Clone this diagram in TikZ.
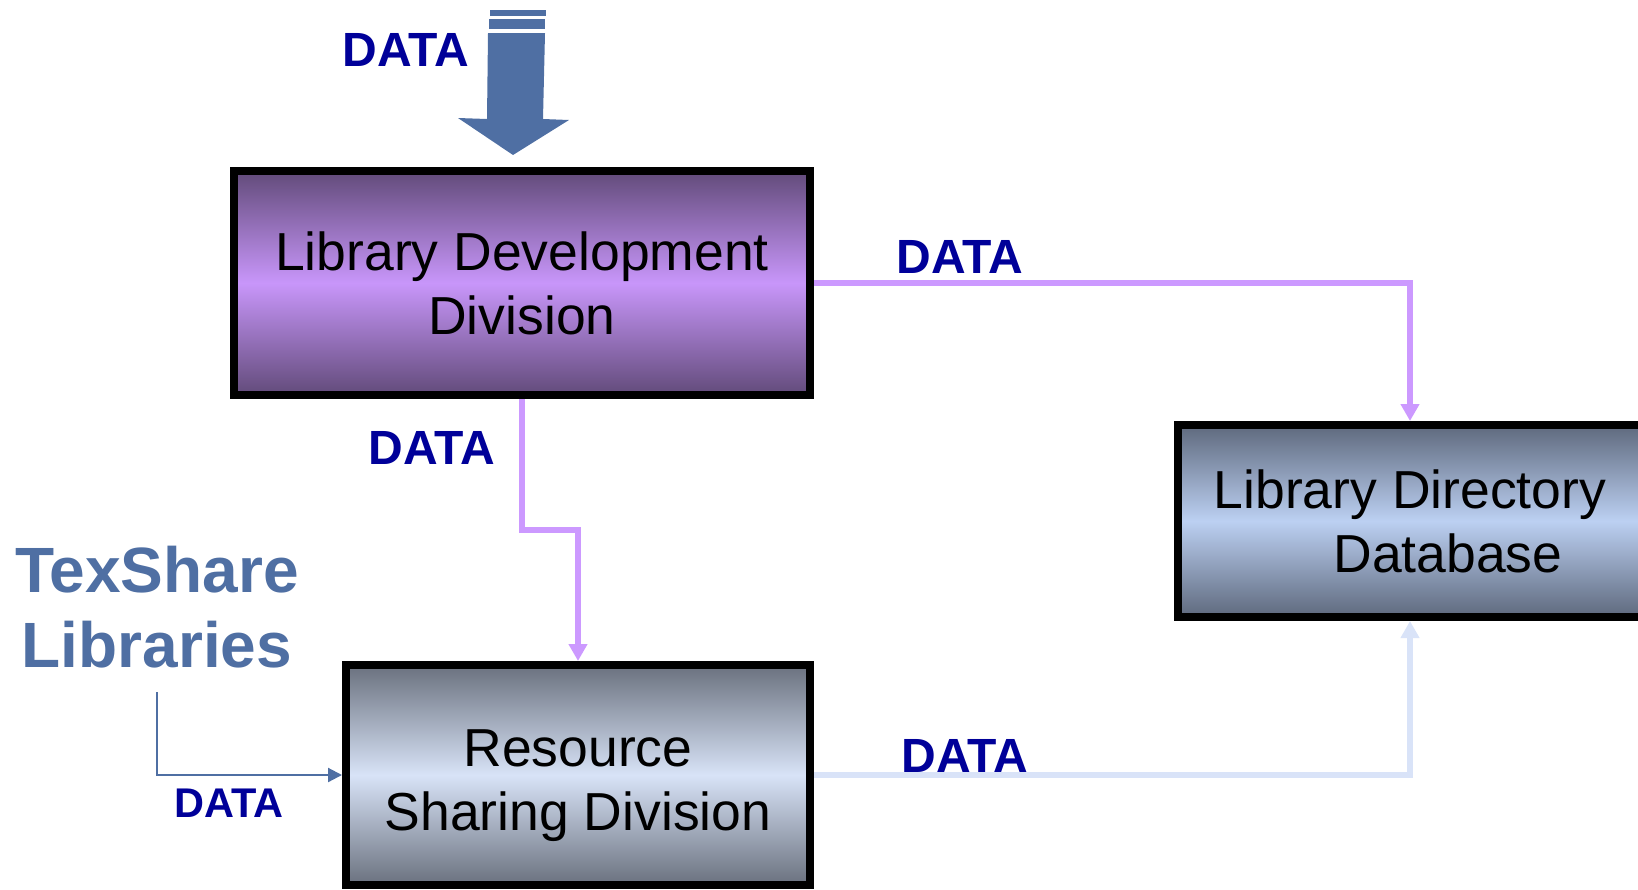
\documentclass[tikz,border=0pt]{standalone}
\usepackage{fontspec}
\setmainfont{Liberation Sans}
\usetikzlibrary{arrows.meta}
\usetikzlibrary{calc,positioning}
\definecolor{datablue}{RGB}{0,0,153}
\definecolor{steelblue}{RGB}{79,111,163}
\definecolor{lilac}{RGB}{204,153,255}
\definecolor{paleblue}{RGB}{217,227,248}
\definecolor{devdark}{RGB}{98,75,122}
\definecolor{devlight}{RGB}{200,150,250}
\definecolor{shrdark}{RGB}{106,113,126}
\definecolor{shrlight}{RGB}{216,227,247}
\definecolor{dirdark}{RGB}{94,105,125}
\definecolor{dirlight}{RGB}{188,208,242}
\def\totalwidth{1638}
\def\totalheight{889}
\tikzstyle{division}             = [draw=black,line width=8pt,inner sep=0pt,
                                    align=center,font=\fontsize{53.5}{64}\selectfont]
\tikzstyle{datalabel}            = [text=datablue,inner sep=0pt,
                                    font=\fontsize{48}{56}\selectfont\bfseries]
\tikzset{shaded/.style 2 args={top color=#1,bottom color=#1,middle color=#2},
         flow/.style={line width=6pt,-{Triangle[width=18pt,length=17pt]}},
         feed/.style={line width=2.2pt,steelblue,-{Triangle[width=14pt,length=14pt]}}
}

\begin{document}
\begin{tikzpicture}[x=1pt,y=-1pt]
        \useasboundingbox (0,0) rectangle (\totalwidth,\totalheight);
        \clip (0,0) rectangle (\totalwidth,\totalheight);

        % Boxes
        \node[division,shaded={devdark}{devlight},minimum width=576pt,minimum height=224pt]
              (dev) at (522,283) {Library Development\\Division};
        \node[division,shaded={shrdark}{shrlight},minimum width=464pt,minimum height=220pt]
              (share) at (578,775) {\rule{0pt}{58pt}Resource\\Sharing Division};
        \node[division,shaded={dirdark}{dirlight},minimum width=464pt,minimum height=192pt]
              (dir) at (1410,521) {Library Directory\\\hspace*{76pt}Database};
        \node[text=steelblue,align=center,inner xsep=0pt,inner ysep=24pt,
              font=\fontsize{64}{75}\selectfont\bfseries] (tex) at (157,607) {TexShare\\Libraries};

        % Incoming block arrow
        \fill[steelblue] (490,10) rectangle (546,16);
        \fill[steelblue] (489,19) rectangle (545,29);
        \fill[steelblue] (488,33) -- (545,33) -- (543,119) -- (569,120) -- (513,155)
                         -- (458,118) -- (487,119) -- cycle;
        \node[datalabel] (dtop) at (406,50) {DATA};

        % Flows
        \draw[flow,lilac] (dev.east) -| (dir.north);
        \node[datalabel] (dright) at (960,257) {DATA};

        \draw[flow,lilac] (dev.south) -- ++(0,131) -| (share.north);
        \node[datalabel] (ddown) at (432,448) {DATA};

        \draw[flow,paleblue] (share.east) -| (dir.south);
        \node[datalabel] (dback) at (965,756) {DATA};

        \draw[feed] (tex.south) |- (share.west);
        \node[datalabel,font=\fontsize{41.5}{50}\selectfont\bfseries] (dlib) at (229,803) {DATA};
    \end{tikzpicture}
\end{document}
